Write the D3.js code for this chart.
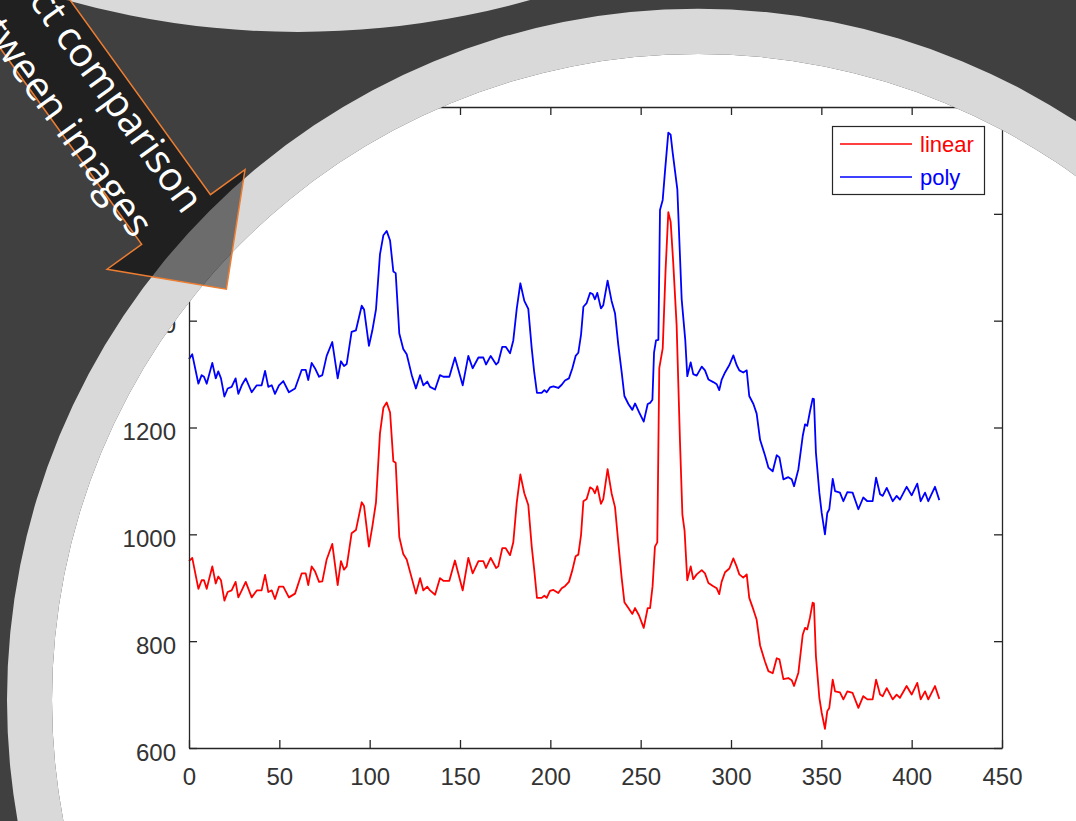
<!DOCTYPE html>
<html><head><meta charset="utf-8">
<script src="https://cdn.jsdelivr.net/npm/d3@7"></script>
<style>html,body{margin:0;padding:0;background:#404040;overflow:hidden}svg{display:block}</style>
</head><body>
<svg id="c" width="1076" height="821"></svg>
<script>
// ---------- data ----------
const xTicks = [0, 50, 100, 150, 200, 250, 300, 350, 400, 450];
const yTicks = [600, 800, 1000, 1200, 1400, 1600, 1800];
const legendLabels = ["linear", "poly"];
const seriesColors = ["#ff0000", "#0000ff"];
const bannerLines = ["Direct comparison", "between images"];

const polyX = [0,1.8,5.2,7,8.3,9.8,12.9,14.8,16.2,17.7,19.6,21.4,23.6,25.8,27.3,29.2,31.4,34.7,37.5,40.2,42.1,43.9,45.8,47.6,49.8,52.2,55.3,58.7,62.4,64.6,66,67.9,69.7,72,73.8,76.2,79.3,82.3,84.1,85.8,87.3,90,92.4,95.6,96.9,99.6,101.5,103.5,105.7,107.6,109.4,111.3,113.1,114.4,116.4,118.6,120.5,123.3,125.6,127.9,129.7,131.9,133.4,136.2,138.9,140.8,144.1,147.2,151.5,154.6,157,160.2,162.9,164.4,167,170,171.2,173.4,175.3,177.7,179.5,181.4,183.4,185.6,187.8,189.7,191.1,192.6,195.2,196.7,198,199.8,201.7,204.4,206.3,208.1,210.3,212.2,214,215.5,217,218.3,220.1,222,223.4,224.7,226,228,229.3,231.7,233.9,235.8,237.6,239.5,241,243.2,245.4,246.9,249.1,251.7,253.9,255.2,256.5,257.4,258.5,259.8,260.7,262.2,263.5,265.3,266.6,267.7,270.3,272.7,274.7,275.8,277.7,279.1,281,283.8,285.6,287.5,290.2,292.1,293.5,294.8,296.7,299.1,301.3,303.1,304.6,306.8,308.7,310.1,312.4,314.2,316.1,318.8,320.7,323.1,325.3,326.8,329,331.7,333.6,334.9,337.3,339.7,341,342.2,343.7,345.2,345.9,347,348.9,350.2,352,353.3,354.4,356.3,357.6,360.3,362.2,364.4,367.3,370.5,373.2,375.5,378.4,380.3,382.5,384,386.2,389.5,391.7,393.5,397.2,400,403.1,405,407.4,409.2,412.9,415.3];
const polyY = [1328,1337,1282,1298,1295,1282,1321,1292,1305,1292,1258,1273,1276,1292,1263,1279,1292,1266,1279,1279,1306,1276,1279,1263,1279,1287,1266,1273,1308,1308,1289,1321,1311,1295,1298,1334,1360,1292,1324,1315,1319,1379,1382,1428,1421,1353,1382,1421,1524,1560,1568,1550,1492,1489,1376,1347,1337,1298,1273,1298,1279,1286,1276,1271,1298,1295,1295,1331,1279,1334,1311,1331,1331,1318,1334,1318,1322,1351,1351,1339,1363,1422,1470,1437,1422,1348,1303,1265,1265,1270,1266,1275,1277,1274,1280,1288,1292,1311,1334,1340,1374,1426,1433,1452,1450,1440,1452,1423,1429,1475,1437,1414,1355,1303,1259,1244,1233,1245,1229,1211,1244,1246,1252,1340,1363,1364,1607,1626,1681,1752,1748,1715,1646,1440,1363,1296,1322,1300,1297,1314,1307,1290,1285,1281,1270,1289,1303,1317,1335,1317,1307,1303,1307,1259,1244,1226,1177,1148,1125,1118,1148,1144,1103,1107,1103,1090,1122,1184,1206,1203,1230,1254,1253,1153,1078,1040,1000,1040,1047,1104,1081,1078,1062,1079,1078,1047,1069,1062,1062,1106,1075,1072,1087,1062,1072,1065,1089,1073,1095,1062,1078,1062,1089,1064];

const linearX = [0,1.8,5.2,7,8.3,9.8,12.9,14.8,16.2,17.7,19.6,21.4,23.6,25.8,27.3,29.2,31.4,34.7,37.5,40.2,42.1,43.9,45.8,47.6,49.8,52.2,55.3,58.7,62.4,64.6,66,67.9,69.7,72,73.8,76.2,79.3,82.3,84.1,85.8,87.3,90,92.4,95.6,96.9,99.6,101.5,103.5,105.7,107.6,109.4,111.3,113.1,114.4,116.4,118.6,120.5,123.3,125.6,127.9,129.7,131.9,133.4,136.2,138.9,140.8,144.1,147.2,151.5,154.6,157,160.2,162.9,164.4,167,170,171.2,173.4,175.3,177.7,179.5,181.4,183.4,185.6,187.8,189.7,191.1,192.6,195.2,196.7,198,199.8,201.7,204.4,206.3,208.1,210.3,212.2,214,215.5,217,218.3,220.1,222,223.4,224.7,226,228,229.3,231.7,233.9,235.8,237.6,239.5,241,243.2,245.4,246.9,249.1,251.7,253.9,255.2,256.6,257.9,259.2,260.3,262.2,263.8,265.3,266.6,268,269.9,271.8,273.1,274.3,275.8,277.7,279.1,281,283.8,285.6,287.5,290.2,292.1,293.5,294.8,296.7,299.1,301.3,303.1,304.6,306.8,308.7,310.1,312.4,314.2,316.1,318.8,320.7,323.1,325.3,326.8,329,331.7,333.6,334.9,337.3,339.7,341,342.2,343.7,345.2,345.9,347,348.9,350.2,352,353.3,354.4,356.3,357.6,360.3,362.2,364.4,367.3,370.5,373.2,375.5,378.4,380.3,382.5,384,386.2,389.5,391.7,393.5,397.2,400,403.1,405,407.4,409.2,412.9,415.3];
const linearY = [950,956,898,914,914,898,940,908,921,914,876,892,895,911,882,895,911,882,895,895,924,892,895,879,902,902,882,889,927,927,905,940,931,911,912,953,982,905,950,934,940,1002,1008,1060,1053,977,1015,1060,1189,1237,1247,1228,1137,1134,995,963,953,918,889,918,895,902,895,887,918,913,913,951,895,956,927,950,950,937,956,937,940,974,974,961,985,1059,1112,1077,1055,977,933,881,881,885,881,894,896,890,899,903,911,933,959,962,999,1062,1066,1088,1085,1077,1090,1057,1066,1122,1077,1051,985,918,873,862,851,862,848,825,862,862,903,977,985,1311,1348,1496,1603,1585,1510,1392,1170,1037,1007,914,940,916,925,933,927,909,903,899,888,911,929,936,955,940,925,919,925,881,859,840,792,762,744,740,768,766,729,731,727,716,741,812,825,822,844,872,871,772,694,666,636,669,675,728,706,704,691,706,703,675,697,691,691,728,700,697,712,691,700,694,716,700,722,691,706,691,716,692];

// ---------- layout ----------
const W = 1076, H = 821;
const svg = d3.select("#c");
const AX = "#262626";
const tickFont = "'Liberation Sans', Arial, Helvetica, sans-serif";

svg.append("rect").attr("width", W).attr("height", H).attr("fill", "#ffffff");

const x = d3.scaleLinear().domain([0, 450]).range([189, 1002]);
const y = d3.scaleLinear().domain([600, 1800]).range([748, 107]);

const chart = svg.append("g");

// series
const line = d3.line().x(d => x(d[0])).y(d => y(d[1]));
const linearData = linearX.map((v, i) => [v, linearY[i]]);
const polyData = polyX.map((v, i) => [v, polyY[i]]);
chart.append("path").datum(linearData).attr("d", line)
  .attr("fill", "none").attr("stroke", seriesColors[0]).attr("stroke-width", 1.8).attr("stroke-linejoin", "round");
chart.append("path").datum(polyData).attr("d", line)
  .attr("fill", "none").attr("stroke", seriesColors[1]).attr("stroke-width", 1.8).attr("stroke-linejoin", "round");

// axes
function styleAxis(g) {
  g.selectAll("path.domain").attr("stroke", AX).attr("stroke-width", 1.3);
  g.selectAll(".tick line").attr("stroke", AX).attr("stroke-width", 1.3);
  g.selectAll(".tick text").attr("fill", "#333333").attr("font-family", tickFont).attr("font-size", 24);
}
const gx = chart.append("g").attr("transform", `translate(0,${y(600)})`)
  .call(d3.axisBottom(x).tickValues(xTicks).tickSizeInner(-8).tickSizeOuter(0).tickPadding(20).tickFormat(d3.format("d")));
styleAxis(gx);
const gy = chart.append("g").attr("transform", `translate(${x(0)},0)`)
  .call(d3.axisLeft(y).tickValues(yTicks).tickSizeInner(-8).tickSizeOuter(0).tickPadding(13).tickFormat(d3.format("d")));
styleAxis(gy);
gy.selectAll(".tick text").attr("dy", "0.5em");
const gt = chart.append("g").attr("transform", `translate(0,${y(1800)})`)
  .call(d3.axisTop(x).tickValues(xTicks).tickSizeInner(-8).tickSizeOuter(0).tickFormat(""));
styleAxis(gt);
const gr = chart.append("g").attr("transform", `translate(${x(450)},0)`)
  .call(d3.axisRight(y).tickValues(yTicks).tickSizeInner(-8).tickSizeOuter(0).tickFormat(""));
styleAxis(gr);

// legend
const lg = chart.append("g");
lg.append("rect").attr("x", 832.5).attr("y", 126.5).attr("width", 152).attr("height", 68)
  .attr("fill", "#fff").attr("stroke", AX).attr("stroke-width", 1.2);
legendLabels.forEach((lab, i) => {
  const ly = 144 + i * 33;
  lg.append("line").attr("x1", 840).attr("x2", 912).attr("y1", ly).attr("y2", ly)
    .attr("stroke", seriesColors[i]).attr("stroke-width", 1.5);
  lg.append("text").attr("x", 920).attr("y", ly + 8).attr("fill", seriesColors[i])
    .attr("font-family", tickFont).attr("font-size", 22).text(lab);
});

// ---------- slide decoration ----------
function circ(cx, cy, r) {
  return `M${cx - r},${cy}a${r},${r} 0 1,0 ${2 * r},0a${r},${r} 0 1,0 ${-2 * r},0Z`;
}
const cx = 698, cy = 700, rIn = 646, rOut = 691;
svg.append("path").attr("d", `M0,0H${W}V${H}H0Z` + circ(cx, cy, rIn))
  .attr("fill", "#404040").attr("fill-rule", "evenodd");
svg.append("path").attr("d", circ(cx, cy, rOut) + circ(cx, cy, rIn))
  .attr("fill", "#d9d9d9").attr("fill-rule", "evenodd");
svg.append("path").attr("d", circ(298, -826, 858) + circ(298, -826, 816))
  .attr("fill", "#d9d9d9").attr("fill-rule", "evenodd");

// arrow banner
const ban = svg.append("g").attr("transform", "rotate(54.2)");
ban.append("path")
  .attr("d", "M-300,-56.8L281,-56.8L281,-99.4L367,-14.4L281,70.6L281,28L-300,28Z")
  .attr("fill", "#000").attr("fill-opacity", 0.5)
  .attr("stroke", "#ed7d31").attr("stroke-width", 1.5).attr("stroke-linejoin", "miter");
const bannerEnds = [[282, -22.3], [272, 32.7]];
bannerLines.forEach((t, i) => {
  ban.append("text").attr("x", bannerEnds[i][0]).attr("y", bannerEnds[i][1])
    .attr("text-anchor", "end").attr("fill", "#fff")
    .attr("font-family", "'Open Sans', 'Noto Sans', sans-serif").attr("font-size", 40).text(t);
});
</script>
</body></html>
